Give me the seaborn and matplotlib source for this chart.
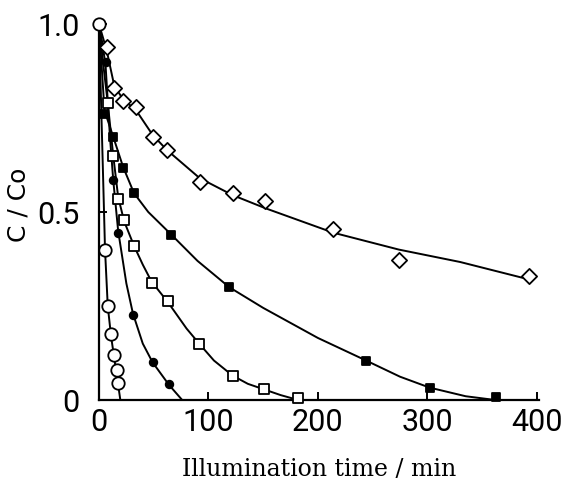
import matplotlib
matplotlib.use("Agg")
import matplotlib.pyplot as plt
import seaborn as sns
import pandas as pd

oc_t = [0, 5.5, 8, 11, 14, 16, 17.5]
oc_c = [1.0, 0.40, 0.25, 0.175, 0.12, 0.08, 0.045]

fc_t = [6, 13, 17.5, 31, 49, 64]
fc_c = [0.90, 0.585, 0.445, 0.226, 0.10, 0.042]

os_t = [8, 13, 17.5, 23, 32, 48, 63, 91.5, 122, 151, 182]
os_c = [0.79, 0.65, 0.535, 0.48, 0.41, 0.31, 0.263, 0.149, 0.064, 0.029, 0.005]

fs_t = [5, 13, 22, 32, 66, 119, 244, 302, 363]
fs_c = [0.76, 0.70, 0.617, 0.55, 0.44, 0.30, 0.104, 0.032, 0.008]

od_t = [7, 14, 22, 34, 49, 62, 92, 122, 152, 214, 274, 393]
od_c = [0.94, 0.83, 0.795, 0.78, 0.70, 0.665, 0.58, 0.55, 0.53, 0.455, 0.372, 0.33]

# ---- fitted curves ----
oc_line_t = [0, 2, 3.5, 5.5, 8, 11, 14, 17, 19.5]
oc_line_c = [1.0, 0.78, 0.62, 0.40, 0.25, 0.17, 0.11, 0.05, 0.0]

fc_line_t = [0, 3, 6, 10, 13, 17.5, 25, 31, 40, 49, 57, 64, 70, 76]
fc_line_c = [1.0, 0.95, 0.89, 0.70, 0.585, 0.45, 0.31, 0.23, 0.15, 0.10, 0.068, 0.04, 0.02, 0.0]

os_line_t = [0, 4, 8, 13, 17.5, 23, 32, 40, 48, 63, 80, 91.5, 105, 122, 136, 151, 166, 182]
os_line_c = [1.0, 0.89, 0.79, 0.65, 0.54, 0.475, 0.41, 0.36, 0.315, 0.26, 0.19, 0.15, 0.105, 0.065, 0.043, 0.028, 0.013, 0.0]

fs_line_t = [0, 5, 13, 22, 32, 45, 66, 90, 119, 150, 200, 244, 275, 302, 335, 362]
fs_line_c = [1.0, 0.77, 0.70, 0.62, 0.55, 0.50, 0.44, 0.37, 0.30, 0.245, 0.165, 0.105, 0.062, 0.033, 0.01, 0.0]

od_line_t = [0, 7, 14, 22, 34, 49, 62, 92, 122, 152, 214, 274, 330, 387]
od_line_c = [1.0, 0.93, 0.835, 0.80, 0.77, 0.705, 0.665, 0.59, 0.545, 0.51, 0.445, 0.40, 0.367, 0.325]

x_ticks = [0, 100, 200, 300, 400]
x_ticklabels = ["0", "100", "200", "300", "400"]
y_ticks = [0, 0.5, 1.0]
y_ticklabels = ["0", "0.5", "1.0"]

sns.set_style("ticks", {"axes.edgecolor": "black", "text.color": "black",
                        "xtick.color": "black", "ytick.color": "black",
                        "axes.labelcolor": "black"})
plt.rcParams["font.family"] = ["DejaVu Sans"]

fig = plt.figure(figsize=(5.73, 4.86), dpi=100)
ax = fig.add_axes([99 / 573, 86 / 486, 440 / 573, 376 / 486])

lw = 1.4
lines = [(oc_line_t, oc_line_c), (fc_line_t, fc_line_c), (os_line_t, os_line_c),
         (fs_line_t, fs_line_c), (od_line_t, od_line_c)]
for t, c in lines:
    sns.lineplot(x=t, y=c, ax=ax, color="black", linewidth=lw, sort=False,
                 estimator=None, clip_on=False, zorder=2)

def pts(t, c, marker, face, size, ec_lw=1.3):
    sns.scatterplot(x=t, y=c, ax=ax, marker=marker, s=size, facecolor=face,
                    edgecolor="black", linewidth=ec_lw, clip_on=False, zorder=3)

pts(od_t, od_c, "D", "white", 60)
pts(fs_t, fs_c, "s", "black", 30)
pts(os_t, os_c, "s", "white", 50)
pts(fc_t, fc_c, "o", "black", 30)
pts(oc_t, oc_c, "o", "white", 80)

ax.set_xlim(0, 402)
ax.set_ylim(0, 1.0)
sns.despine(ax=ax)
for s in ["left", "bottom"]:
    ax.spines[s].set_linewidth(1.6)

ax.set_xticks(x_ticks)
ax.set_xticklabels(x_ticklabels)
ax.set_yticks(y_ticks)
ax.set_yticklabels(y_ticklabels)
ax.tick_params(axis="both", direction="in", length=6, width=1.4, labelsize=22,
               colors="black")
ax.tick_params(axis="x", pad=6)
ax.tick_params(axis="y", pad=14)
for lab in ax.get_xticklabels() + ax.get_yticklabels():
    lab.set_fontfamily(["Roboto", "DejaVu Sans"])

ax.set_xlabel("Illumination time / min", fontfamily="DejaVu Serif", fontsize=17,
              labelpad=15, color="black")
ax.set_ylabel("C / Co", fontsize=18, color="black")
ax.yaxis.set_label_coords(-0.155, 0.52)

fig.savefig("out.png", dpi=100)
